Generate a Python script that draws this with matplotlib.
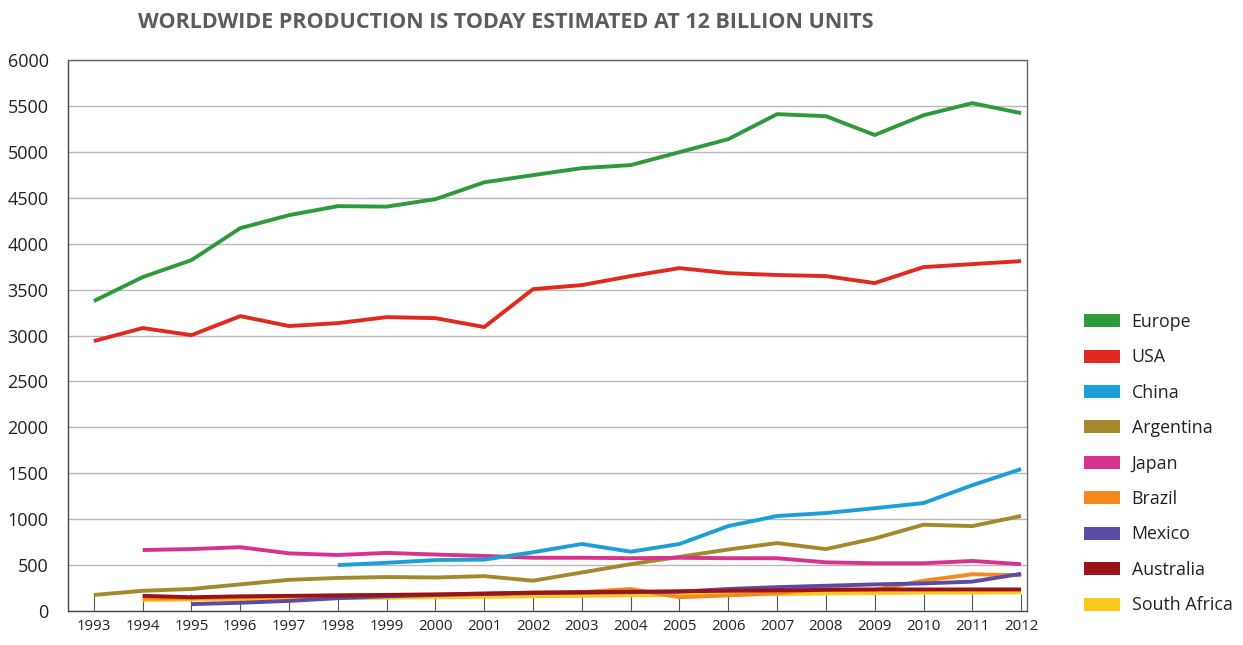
import matplotlib
matplotlib.use("Agg")
import matplotlib.pyplot as plt
from matplotlib.patches import Patch
from matplotlib import font_manager

years = list(range(1993, 2013))

europe = [3376, 3637, 3822, 4170, 4312, 4410, 4405, 4486, 4670, 4748,
          4824, 4857, 4998, 5140, 5412, 5390, 5185, 5400, 5532, 5423]
usa = [2940, 3082, 3005, 3212, 3104, 3136, 3201, 3190, 3093, 3506,
       3550, 3648, 3735, 3680, 3660, 3648, 3572, 3746, 3779, 3811]
china = [None, None, None, None, None, 500, 525, 555, 560, 640,
         730, 646, 730, 925, 1035, 1067, 1120, 1176, 1370, 1546]
argentina = [175, 220, 240, 290, 340, 360, 370, 365, 380, 330,
             420, 510, 590, 670, 740, 675, 790, 940, 925, 1035]
japan = [None, 664, 675, 695, 628, 610, 633, 615, 600, 580,
         580, 575, 580, 575, 575, 530, 520, 520, 545, 510]
brazil = [None, 135, 140, 150, 160, 170, 175, 180, 190, 200,
          205, 240, 150, 170, 195, 240, 230, 330, 400, 390]
mexico = [None, None, 75, 90, 110, 140, 160, 175, 185, 195,
          200, 205, 210, 240, 260, 275, 290, 300, 320, 405]
australia = [None, 165, 150, 160, 165, 170, 175, 180, 190, 200,
             205, 210, 215, 220, 225, 230, 235, 235, 235, 235]
south_africa = [None, 120, 125, 130, 135, 140, 145, 150, 155, 160,
                165, 170, 175, 180, 185, 190, 195, 200, 200, 205]

series = [
    ("Europe", europe, "#2e9a3c"),
    ("USA", usa, "#e02a1f"),
    ("China", china, "#1c9fd9"),
    ("Argentina", argentina, "#a3892b"),
    ("Japan", japan, "#d8338c"),
    ("Brazil", brazil, "#f28a1d"),
    ("Mexico", mexico, "#5b4ba6"),
    ("Australia", australia, "#9b1219"),
    ("South Africa", south_africa, "#f9c81a"),
]

# drawing order: small producers first so the thick lines sit on top
draw_order = ["South Africa", "Brazil", "Mexico", "Australia", "Argentina",
              "Japan", "China", "USA", "Europe"]

names = {f.name for f in font_manager.fontManager.ttflist}
base_font = "Open Sans" if "Open Sans" in names else "DejaVu Sans"
title_font = "Liberation Sans Narrow" if "Liberation Sans Narrow" in names else base_font
plt.rcParams["font.family"] = [base_font, "DejaVu Sans"]

fig = plt.figure(figsize=(12.43, 6.45), dpi=100)
ax = fig.add_axes([0.0547, 0.0527, 0.7715, 0.854])

lookup = {n: (v, c) for n, v, c in series}
for i, name in enumerate(draw_order):
    vals, col = lookup[name]
    xs = [y for y, v in zip(years, vals) if v is not None]
    ys = [v for v in vals if v is not None]
    ax.plot(xs, ys, color=col, lw=2.8, solid_joinstyle="round",
            solid_capstyle="butt", zorder=3 + i)

ax.set_xlim(1992.47, 2012.12)
ax.set_ylim(0, 6000)
ax.set_yticks(range(0, 6001, 500))
ax.set_xticks(years)
ax.set_xticklabels([str(y) for y in years], fontsize=10.8, color="#222222")
ax.tick_params(axis="x", direction="in", length=12, width=0.8,
               color="#555555", pad=6)
ax.tick_params(axis="y", length=0, pad=14, labelsize=13, labelcolor="#222222")
ax.grid(axis="y", color="#b8b8b8", lw=1.0)
ax.set_axisbelow(True)
for side, sp in ax.spines.items():
    sp.set_color("#444444" if side in ("left", "bottom") else "#666666")
    sp.set_linewidth(1.0)

title = fig.text(0.407, 0.965,
                 "WORLDWIDE PRODUCTION IS TODAY ESTIMATED AT 12 BILLION UNITS",
                 ha="center", va="center", fontsize=15.5, fontweight="bold",
                 color="#5c5c5c", family=[title_font, "DejaVu Sans"])

handles = [Patch(facecolor=c, edgecolor="none", label=n) for n, _, c in series]
leg = fig.legend(handles=handles, loc="upper left",
                 bbox_to_anchor=(0.866, 0.526), frameon=False,
                 fontsize=12.8, handlelength=2.05, handleheight=0.75,
                 handletextpad=0.65, labelspacing=0.98, borderaxespad=0)
for t in leg.get_texts():
    t.set_color("#222222")

fig.savefig("out.png", dpi=100, facecolor="white")
